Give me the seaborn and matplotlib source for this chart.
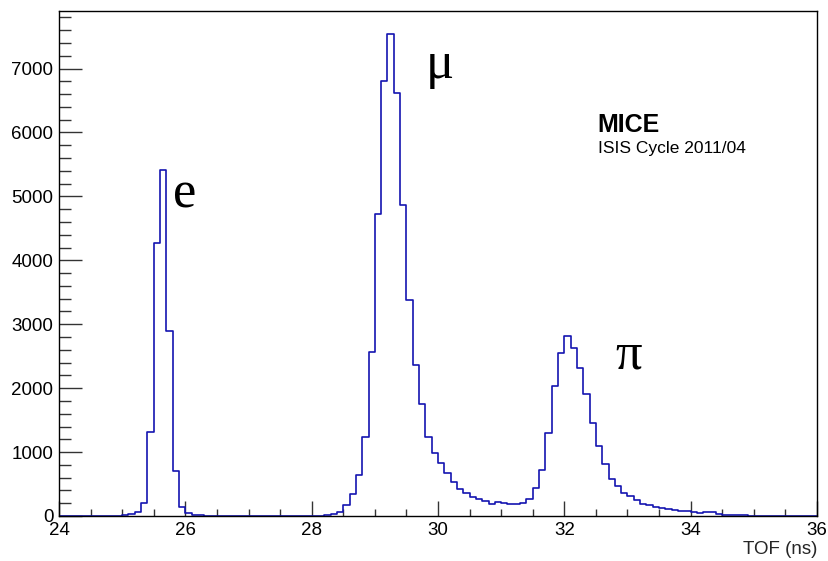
import numpy as np
import pandas as pd
import matplotlib
matplotlib.use("Agg")
import matplotlib.pyplot as plt
import seaborn as sns
from matplotlib.ticker import MultipleLocator

# Time-of-flight histogram: 120 bins of 0.1 ns between 24 and 36 ns
tof_edges_ns = np.linspace(24.0, 36.0, 121)

counts = [
    # 24.0 - 24.9
    0, 0, 0, 0, 0, 0, 0, 0, 0, 0,
    # 25.0 - 25.9  (electrons)
    15, 25, 60, 200, 1320, 4270, 5420, 2900, 710, 140,
    # 26.0 - 26.9
    45, 20, 20, 0, 0, 0, 0, 0, 0, 0,
    # 27.0 - 27.9
    0, 0, 0, 0, 0, 0, 0, 0, 0, 0,
    # 28.0 - 28.9  (muons)
    0, 0, 15, 30, 68, 172, 344, 642, 1241, 2561,
    # 29.0 - 29.9
    4721, 6808, 7538, 6615, 4862, 3380, 2358, 1748, 1241, 981,
    # 30.0 - 30.9
    830, 675, 535, 430, 360, 292, 266, 230, 193, 224,
    # 31.0 - 31.9  (pions)
    209, 193, 185, 203, 271, 433, 725, 1304, 2029, 2545,
    # 32.0 - 32.9
    2817, 2634, 2311, 1904, 1455, 1100, 809, 585, 465, 365,
    # 33.0 - 33.9
    313, 255, 180, 165, 141, 128, 105, 89, 73, 73,
    # 34.0 - 34.9
    70, 42, 57, 55, 30, 12, 10, 9, 8, 7,
    # 35.0 - 35.9
    6, 5, 5, 4, 4, 3, 3, 3, 2, 2,
]

particle_labels = ["e", "\u03bc", "\u03c0"]
particle_label_pos = [(25.80, 4820), (29.81, 6855), (32.80, 2300)]

title_text = "MICE"
subtitle_text = "ISIS Cycle 2011/04"
x_label = "TOF (ns)"

sns.set_style("ticks")
plt.rcParams["font.family"] = ["Liberation Sans", "DejaVu Sans"]

bin_centers = (tof_edges_ns[:-1] + tof_edges_ns[1:]) / 2
df = pd.DataFrame({"tof": bin_centers, "counts": np.asarray(counts, dtype=float)})

fig = plt.figure(figsize=(8.29, 5.61), dpi=100)
ax = fig.add_axes([59 / 829, 45 / 561, 758 / 829, 505 / 561])

sns.histplot(
    data=df, x="tof", weights="counts", bins=[float(b) for b in tof_edges_ns],
    element="step", fill=False, color="#1414b0", linewidth=1.2, ax=ax,
)

ax.set_xlim(24, 36)
ax.set_ylim(0, 7900)
ax.set_ylabel("")
ax.set_xlabel(x_label, loc="right", fontsize=13.5, labelpad=2)

ax.xaxis.set_major_locator(MultipleLocator(2))
ax.xaxis.set_minor_locator(MultipleLocator(0.5))
ax.yaxis.set_major_locator(MultipleLocator(1000))
ax.yaxis.set_minor_locator(MultipleLocator(200))

ax.tick_params(axis="both", which="both", direction="in", top=False, right=False,
               color="#333333", width=1.0, labelsize=13.5, labelcolor="black")
ax.tick_params(axis="x", which="major", length=10.8, pad=4)
ax.tick_params(axis="x", which="minor", length=5.4)
ax.tick_params(axis="y", which="major", length=16.5, pad=4)
ax.tick_params(axis="y", which="minor", length=8.4)

for side in ["left", "right", "top", "bottom"]:
    ax.spines[side].set_visible(True)
    ax.spines[side].set_color("black")
    ax.spines[side].set_linewidth(1.0)

for lbl, (lx, ly) in zip(particle_labels, particle_label_pos):
    ax.text(lx, ly, lbl, fontsize=38, family=["Liberation Serif", "DejaVu Serif"],
            ha="left", va="baseline", color="black")

ax.text(32.53, 6014, title_text, fontsize=18, fontweight="bold",
        ha="left", va="baseline", color="black")
ax.text(32.53, 5676, subtitle_text, fontsize=12.5,
        ha="left", va="baseline", color="black")

fig.savefig("out.png", dpi=100)
